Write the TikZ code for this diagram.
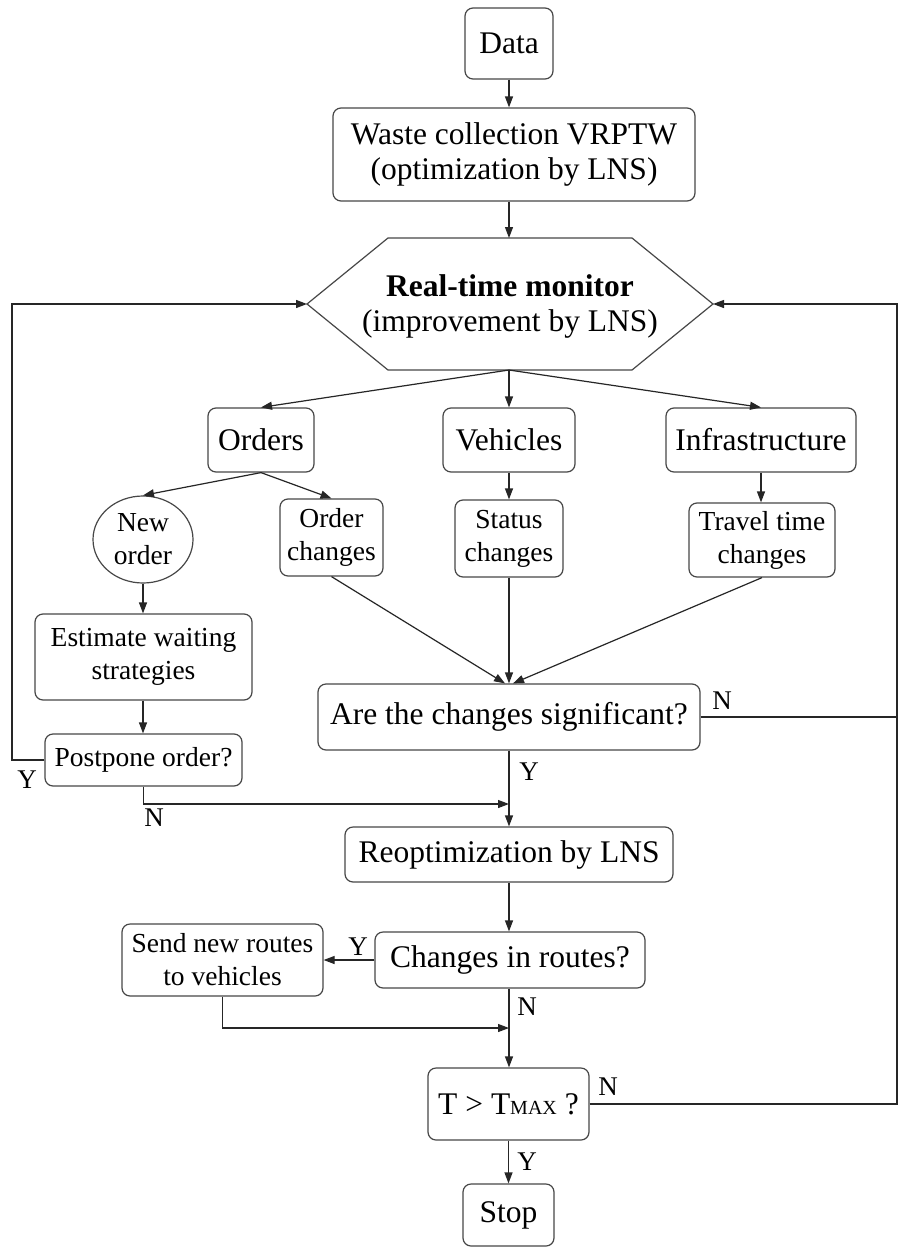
\documentclass[tikz,border=0pt]{standalone}
\usepackage{fontspec}
\setmainfont{Liberation Serif}
\usetikzlibrary{arrows.meta,shapes.geometric}
\newcommand{\bigf}{\fontsize{31.5}{35}\selectfont}
\newcommand{\smallf}{\fontsize{27.5}{33}\selectfont}
\begin{document}
\begin{tikzpicture}[x=1pt,y=-1pt,
  box/.style={draw=black!72,line width=1.2pt,rounded corners=8pt,align=center,inner sep=0pt},
  bigbox/.style={box,font=\bigf},
  smallbox/.style={box,font=\smallf},
  arr/.style={draw=black!85,line width=1.2pt,-{Triangle[length=11pt,width=8pt]}},
  ln/.style={draw=black!85,line width=1.2pt},
  lab/.style={font=\fontsize{27}{27}\selectfont,inner sep=0pt}]
\useasboundingbox[fill=white] (0,0) rectangle (899,1247);

% nodes
\node[bigbox,minimum width=88pt,minimum height=71pt] (data) at (509,43.5) {Data};
\node[bigbox,minimum width=362pt,minimum height=93pt] (waste) at (514,154.5) {Waste collection VRPTW\\(optimization by LNS)};

% hexagon
\coordinate (monW) at (307,304);
\coordinate (monE) at (713,304);
\coordinate (monN) at (509,238);
\coordinate (monS) at (509,370);
\draw[draw=black!72,line width=1.2pt] (monW) -- (388,238) -- (632,238) -- (monE) -- (632,370) -- (388,370) -- cycle;
\node[align=center,font=\bigf,inner sep=0pt] (mon) at (510,306) {\textbf{Real-time monitor}\\(improvement by LNS)};

\node[bigbox,minimum width=106pt,minimum height=64pt] (orders) at (261,440) {Orders};
\node[bigbox,minimum width=132pt,minimum height=64pt] (veh) at (509,440) {Vehicles};
\node[bigbox,minimum width=190pt,minimum height=64pt] (infra) at (761,440) {Infrastructure};

\node[ellipse,draw=black!72,line width=1.2pt,inner sep=0pt,minimum width=100pt,minimum height=87pt,align=center,font=\smallf] (neworder) at (143,539.5) {New\\order};
\node[smallbox,minimum width=103pt,minimum height=77pt] (ordch) at (331.5,537.5) {Order\\changes};
\node[smallbox,minimum width=108pt,minimum height=77pt] (status) at (509,538.5) {Status\\changes};
\node[smallbox,minimum width=146pt,minimum height=74pt] (travel) at (762,540) {Travel time\\changes};

\node[smallbox,minimum width=217pt,minimum height=86pt] (estimate) at (143.5,657) {Estimate waiting\\strategies};
\node[smallbox,minimum width=197pt,minimum height=52pt] (postpone) at (143.5,760) {Postpone order?};

\node[bigbox,minimum width=382pt,minimum height=66pt] (sig) at (509,717) {Are the changes significant?};
\node[bigbox,minimum width=328pt,minimum height=55pt] (reopt) at (509,854.5) {Reoptimization by LNS};
\node[bigbox,minimum width=270pt,minimum height=56pt] (chg) at (510,960) {Changes in routes?};
\node[smallbox,minimum width=201pt,minimum height=72pt] (send) at (222.5,960) {Send new routes\\to vehicles};
\node[bigbox,minimum width=161pt,minimum height=72pt] (tmax) at (508.5,1104) {T > T{\fontsize{20}{20}\selectfont MAX} ?};
\node[bigbox,minimum width=91pt,minimum height=62pt] (stop) at (508.5,1215) {Stop};

% helper coordinates
\coordinate (loopL) at (12,760);
\coordinate (rtop) at (897,304);
\coordinate (m1) at (509,804);
\coordinate (m2) at (509,1028);

% connectors
\draw[arr] (data.south) -- (data.south |- waste.north);
\draw[arr] (waste.south -| monN) -- (monN);
\draw[arr] (monS) -- (orders.north);
\draw[arr] (monS) -- (veh.north);
\draw[arr] (monS) -- (infra.north);
\draw[arr] (orders.south) -- (neworder.north);
\draw[arr] (orders.south) -- (ordch.north);
\draw[arr] (veh.south) -- (status.north);
\draw[arr] (infra.south) -- (infra.south |- travel.north);
\draw[arr] (neworder.south) -- (neworder.south |- estimate.north);
\draw[arr] (estimate.south -| neworder.south) -- (neworder.south |- postpone.north);
\draw[arr] (postpone.west) -- (loopL) |- (monW);
\draw[arr] (ordch.south) -- ([xshift=-4pt]sig.north);
\draw[arr] (status.south) -- (sig.north);
\draw[arr] (travel.south) -- ([xshift=4pt]sig.north);
\draw[arr] (sig.east) -| (rtop) -- (monE);
\draw[ln] (tmax.east) -| (sig.east -| rtop);
\draw[arr] (postpone.south) |- (m1);
\draw[arr] (sig.south) -- (reopt.north);
\draw[arr] (reopt.south) -- (reopt.south |- chg.north);
\draw[arr] (chg.west) -- (send.east);
\draw[arr] (send.south) |- (m2);
\draw[arr] (chg.south -| m2) -- (m2 |- tmax.north);
\draw[arr] (tmax.south) -- (stop.north);

% labels
\node[lab] (y1) at (27,780) {Y};
\node[lab] (n1) at (154,818) {N};
\node[lab] (n2) at (722,701) {N};
\node[lab] (y2) at (529,772) {Y};
\node[lab] (y3) at (358,947) {Y};
\node[lab] (n3) at (527,1007) {N};
\node[lab] (n4) at (608,1087) {N};
\node[lab] (y4) at (527,1162) {Y};
\end{tikzpicture}
\end{document}
